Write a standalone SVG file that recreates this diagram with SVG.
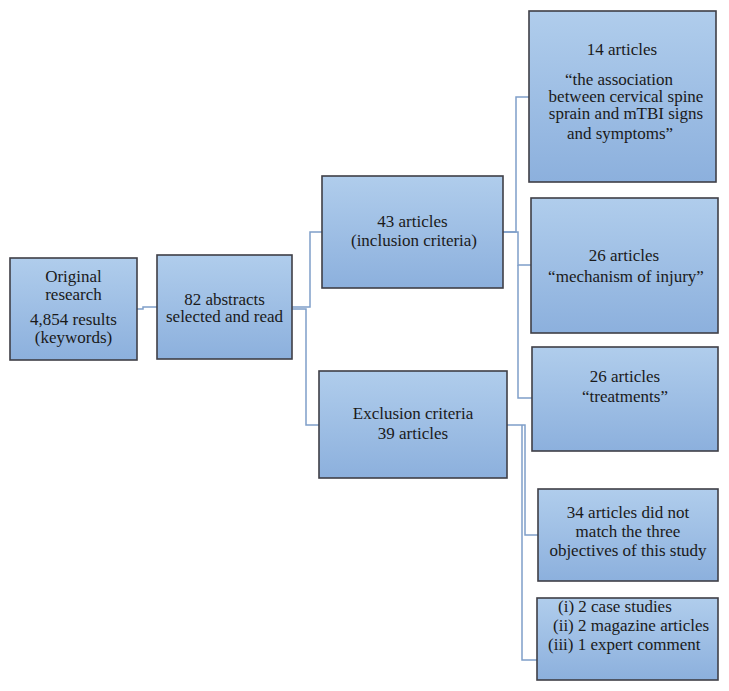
<svg xmlns="http://www.w3.org/2000/svg" width="729" height="691" viewBox="0 0 729 691">
<defs>
<linearGradient id="g" x1="0" y1="0" x2="0" y2="1">
<stop offset="0" stop-color="#b0cdec"/>
<stop offset="1" stop-color="#8cb0dd"/>
</linearGradient>
</defs>
<style>
.box{fill:url(#g);stroke:#3f3f46;stroke-width:1.6}
.c{fill:none;stroke:#7f9fc9;stroke-width:1.5}
text{font-family:"Liberation Serif","Times New Roman",serif;font-size:17px;fill:#1a1a1a;text-anchor:middle}
.l{text-anchor:start}
</style>
<rect width="729" height="691" fill="#ffffff"/>
<g id="connectors">
<path class="c" d="M137,309 H143 V307 H157"/>
<path class="c" d="M292,307 H310 V232 H322"/>
<path class="c" d="M292,309 H306 V425 H319"/>
<path class="c" d="M503,232 H516 V97 H529"/>
<path class="c" d="M503,232 H518 V265 H531"/>
<path class="c" d="M518,265 V398 H532"/>
<path class="c" d="M507,425 H525 V535 H538"/>
<path class="c" d="M522,425 V660 H537"/>
</g>
<g id="n1">
<rect class="box" x="10" y="258" width="127" height="102"/>
<text x="73.5" y="282">Original</text>
<text x="73.5" y="300">research</text>
<text x="73.5" y="325">4,854 results</text>
<text x="73.5" y="343">(keywords)</text>
</g>
<g id="n2">
<rect class="box" x="157" y="255" width="135" height="104"/>
<text x="224.5" y="305">82 abstracts</text>
<text x="224.5" y="322">selected and read</text>
</g>
<g id="n3">
<rect class="box" x="322" y="176" width="181" height="112"/>
<text x="412.5" y="227">43 articles</text>
<text x="414" y="246">(inclusion criteria)</text>
</g>
<g id="n4">
<rect class="box" x="319" y="371" width="188" height="107"/>
<text x="413" y="419">Exclusion criteria</text>
<text x="413" y="439">39 articles</text>
</g>
<g id="n5">
<rect class="box" x="529" y="11" width="187" height="171"/>
<text x="622" y="55">14 articles</text>
<text x="619" y="85">“the association</text>
<text x="626" y="102">between cervical spine</text>
<text x="626" y="119">sprain and mTBI signs</text>
<text x="620" y="139">and symptoms”</text>
</g>
<g id="n6">
<rect class="box" x="531" y="198" width="187" height="135"/>
<text x="624" y="261">26 articles</text>
<text x="626" y="282">“mechanism of injury”</text>
</g>
<g id="n7">
<rect class="box" x="532" y="347" width="186" height="104"/>
<text x="625" y="382">26 articles</text>
<text x="625" y="402">“treatments”</text>
</g>
<g id="n8">
<rect class="box" x="538" y="489" width="180" height="92"/>
<text x="628" y="518">34 articles did not</text>
<text x="628" y="537">match the three</text>
<text x="628" y="556">objectives of this study</text>
</g>
<g id="n9">
<rect class="box" x="537" y="598" width="181" height="82"/>
<text class="l" x="558" y="612">(i) 2 case studies</text>
<text class="l" x="553" y="631">(ii) 2 magazine articles</text>
<text class="l" x="548" y="650">(iii) 1 expert comment</text>
</g>
</svg>
